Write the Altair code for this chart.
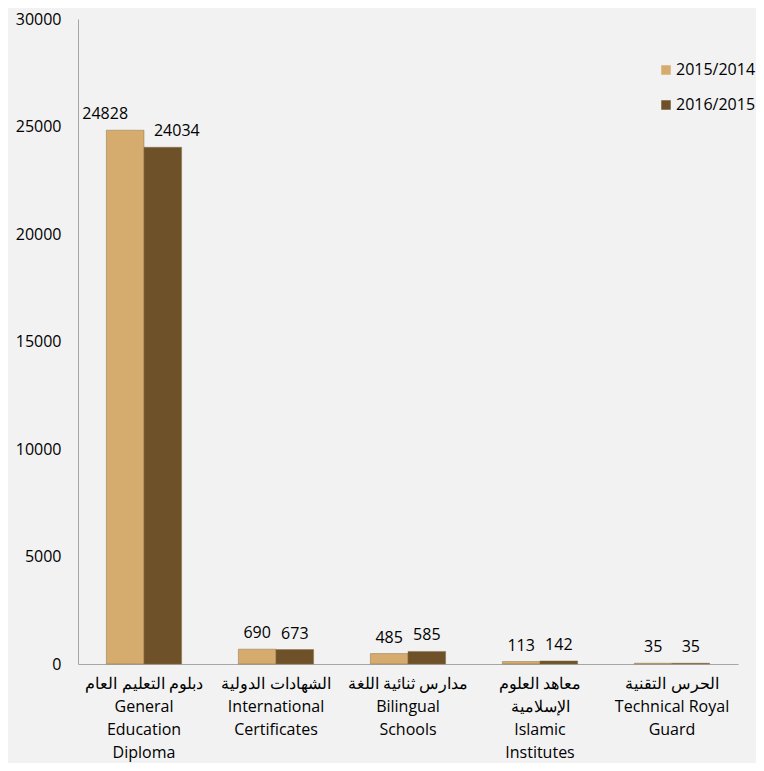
import altair as alt
import pandas as pd

categories = [
    "دبلوم التعليم العام|General|Education|Diploma",
    "الشهادات الدولية|International|Certificates",
    "مدارس ثنائية اللغة|Bilingual|Schools",
    "معاهد العلوم|الإسلامية|Islamic|Institutes",
    "الحرس التقنية|Technical Royal|Guard",
]
series = ["2015/2014", "2016/2015"]
values_2015_2014 = [24828, 690, 485, 113, 35]
values_2016_2015 = [24034, 673, 585, 142, 35]
y_ticks = [0, 5000, 10000, 15000, 20000, 25000, 30000]
colors = ["#D6AB6E", "#6E5128"]

rows = []
for c, v in zip(categories, values_2015_2014):
    rows.append({"cat": c, "year": series[0], "value": v})
for c, v in zip(categories, values_2016_2015):
    rows.append({"cat": c, "year": series[1], "value": v})
df = pd.DataFrame(rows)

FONT = "Open Sans"

x = alt.X(
    "cat:N",
    sort=categories,
    scale=alt.Scale(paddingInner=0.43, paddingOuter=0.215),
    axis=alt.Axis(
        title=None,
        labelAngle=0,
        ticks=False,
        domainColor="#a6a6a6",
        labelExpr="split(datum.label, '|')",
        labelFont=FONT,
        labelFontSize=16,
        labelColor="#000000",
        labelLineHeight=23,
        labelPadding=11,
        labelOverlap=False,
        labelLimit=300,
    ),
)
xoff = alt.XOffset("year:N", sort=series)
y = alt.Y(
    "value:Q",
    scale=alt.Scale(domain=[0, 30000], nice=False),
    axis=alt.Axis(
        title=None,
        values=y_ticks,
        grid=False,
        ticks=False,
        domainColor="#a6a6a6",
        labelFont=FONT,
        labelFontSize=16,
        labelColor="#000000",
        labelPadding=17,
        format="d",
    ),
)
color = alt.Color(
    "year:N",
    sort=series,
    scale=alt.Scale(domain=series, range=colors),
    legend=alt.Legend(
        title=None,
        orient="none",
        legendX=580,
        legendY=43,
        symbolType="square",
        symbolSize=90,
        symbolStrokeWidth=0,
        labelFont=FONT,
        labelFontSize=16,
        labelColor="#000000",
        rowPadding=19,
        labelOffset=2,
    ),
)

base = alt.Chart(df)
bars = base.mark_bar(stroke="#8a6f45", strokeWidth=0.8, strokeOpacity=0.6).encode(
    x=x, xOffset=xoff, y=y, color=color
)
text_enc = dict(x=x, xOffset=xoff, y=y, text=alt.Text("value:Q", format="d"))
labels_small = base.transform_filter("datum.value < 10000").mark_text(
    baseline="bottom", dy=-8, font=FONT, fontSize=16, color="#000000"
).encode(**text_enc)
labels_big_a = base.transform_filter(
    f"datum.value >= 10000 && datum.year == '{series[0]}'"
).mark_text(
    baseline="bottom", dy=-8, dx=-20, font=FONT, fontSize=16, color="#000000"
).encode(**text_enc)
labels_big_b = base.transform_filter(
    f"datum.value >= 10000 && datum.year == '{series[1]}'"
).mark_text(
    baseline="bottom", dy=-8, dx=14, font=FONT, fontSize=16, color="#000000"
).encode(**text_enc)

chart = (
    alt.layer(bars, labels_small, labels_big_a, labels_big_b)
    .properties(
        width=660,
        height=645,
        autosize=alt.AutoSizeParams(type="none"),
        padding={"left": 70, "top": 11, "right": 18, "bottom": 99},
        background="#f2f2f2",
    )
    .configure_view(stroke=None)
)

chart.save("out.html", embed_options={"renderer": "svg", "actions": False})
